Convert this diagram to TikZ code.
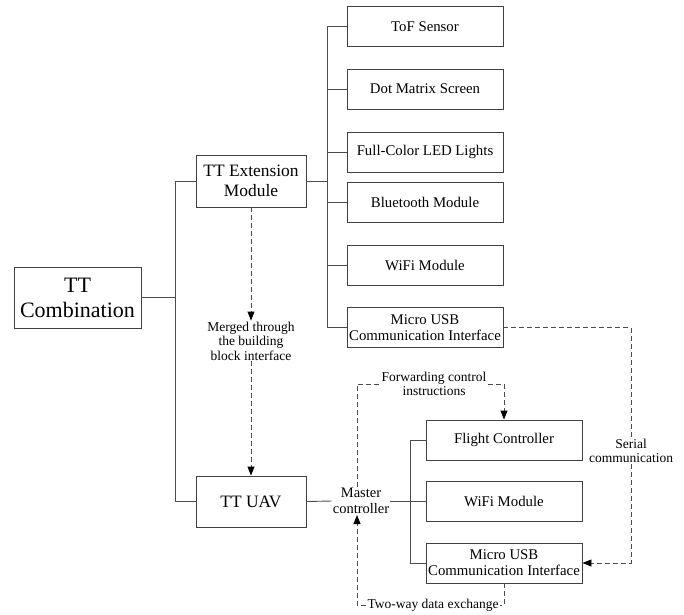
\documentclass[tikz,border=0pt]{standalone}
\usepackage{fontspec}
\setmainfont{Liberation Serif}
\newfontfamily\tnr{Liberation Serif}
\usetikzlibrary{arrows.meta}
\begin{document}
\begin{tikzpicture}[x=1pt,y=-1pt,
  every node/.style={font=\tnr},
  box/.style={draw=black!75,line width=0.9pt,minimum width=#1,align=center,inner sep=0pt},
  rbox/.style={box=156pt,minimum height=40pt,font=\tnr\fontsize{14.8}{16}\selectfont},
  ln/.style={draw=black!70,line width=0.9pt},
  dsh/.style={draw=black!70,line width=0.9pt,dash pattern=on 5pt off 3pt},
  arr/.style={-{Triangle[length=9pt,width=7pt,color=black]}},
  lbl/.style={align=center,font=\tnr\fontsize{13.5}{14.5}\selectfont,inner sep=1pt}]
\useasboundingbox (0,0) rectangle (684,614);
\node[box=127pt,minimum height=61pt,font=\tnr\fontsize{22}{25}\selectfont] (comb) at (77.5,297.5) {TT\\Combination};
\node[box=110pt,minimum height=52pt,font=\tnr\fontsize{17.4}{20}\selectfont] (ext) at (251,181) {TT Extension\\Module};
\node[box=110pt,minimum height=51pt,font=\tnr\fontsize{17.4}{20}\selectfont] (uav) at (251,501.5) {TT UAV};
\node[rbox] (tof) at (425,26.5) {ToF Sensor};
\node[rbox] (dot) at (425,89) {Dot Matrix Screen};
\node[rbox] (led) at (425,152) {Full-Color LED Lights};
\node[rbox] (bt) at (425,202) {Bluetooth Module};
\node[rbox] (wifi) at (425,265) {WiFi Module};
\node[rbox] (usb) at (425,327.5) {Micro USB\\Communication Interface};
\node[rbox] (fc) at (504,440) {Flight Controller};
\node[rbox] (wifi2) at (504,501) {WiFi Module};
\node[rbox] (usb2) at (504,563) {Micro USB\\Communication Interface};
\node[lbl,font=\tnr\fontsize{14.5}{16}\selectfont] (mc) at (361,501) {Master\\controller};
\node[lbl,fill=white] (merge) at (251,341) {Merged through\\the building\\block interface};
\node[lbl,fill=white] (fwd) at (434,384) {Forwarding control\\instructions};
\node[lbl,fill=white] (ser) at (631,451) {Serial\\communication};
\node[lbl,fill=white] (two) at (433,605) {Two-way data exchange};
% coordinates
\coordinate (lb) at (175,0);
\coordinate (rb) at (327,0);
\coordinate (bb) at (410,0);
% left bus
\draw[ln] (comb.east) -- (comb.east -| lb);
\draw[ln] (ext.west) -| (uav.west -| lb) -- (uav.west);
% right bus
\draw[ln] (ext.east) -- (ext.east -| rb);
\draw[ln] (tof.west) -| (usb.west -| rb) -- (usb.west);
\foreach \n in {dot,led,bt,wifi} \draw[ln] (\n.west -| rb) -- (\n.west);
% bottom bus
\draw[ln] (uav.east) -- (mc.west);
\draw[ln] (mc.east) -- (mc.east -| bb);
\draw[ln] (fc.west) -| (usb2.west -| bb) -- (usb2.west);
\draw[ln] (wifi2.west -| bb) -- (wifi2.west);
% dashed
\draw[dsh,arr] (ext.south) -- (merge.north);
\draw[dsh,arr] (merge.south) -- (uav.north);
\coordinate (ftop) at (357,384);
\draw[dsh] (mc.north -| ftop) -- (ftop) -- (fwd.west |- ftop);
\draw[dsh,arr] (fwd.east) -| (fc.north);
\coordinate (sc) at (631,327.5);
\draw[dsh] (usb.east) -- (sc) -- (ser.north);
\draw[dsh,arr] (ser.south) |- (usb2.east);
\coordinate (tb) at (357,605);
\draw[dsh] (usb2.south) |- (two.east);
\draw[dsh,arr] (two.west) -- (tb) -- (mc.south -| tb);
\end{tikzpicture}
\end{document}
